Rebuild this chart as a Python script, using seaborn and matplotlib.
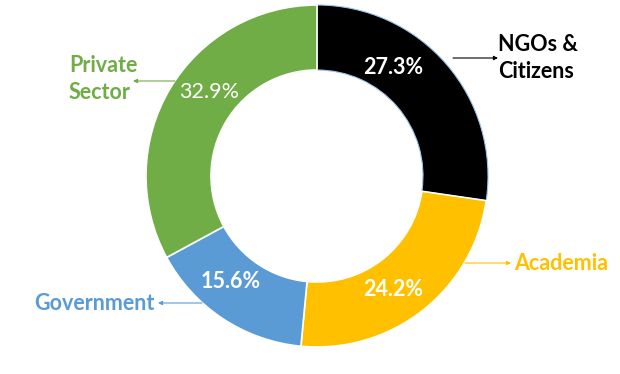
import matplotlib
matplotlib.use("Agg")
import matplotlib.pyplot as plt
import seaborn as sns

# Data
categories = ["NGOs &\nCitizens", "Academia", "Government", "Private\nSector"]
shares = [27.3, 24.2, 15.6, 32.9]
pct_labels = ["27.3%", "24.2%", "15.6%", "32.9%"]
colors = ["#000000", "#FFC000", "#5B9BD5", "#70AD47"]

sns.set_theme(style="white")
plt.rcParams['font.family'] = ['Lato', 'DejaVu Sans']

W, H = 620, 374
fig = plt.figure(figsize=(W / 100, H / 100), dpi=100)
ax = fig.add_axes([0, 0, 1, 1])

cx, cy, R, ring = 317, H - 176, 171, 65
wedges, _ = ax.pie(shares, colors=colors, startangle=90, counterclock=False,
                   center=(cx, cy), radius=R,
                   wedgeprops=dict(width=ring, edgecolor="white", linewidth=1.2))
wedges[0].set_edgecolor("#9DC3E6")
wedges[0].set_linewidth(0.8)
ax.set_xlim(0, W)
ax.set_ylim(0, H)
ax.set_aspect("equal")
ax.axis("off")

# percentage labels (pixel positions from top)
pct_pos = [(393, 67), (393, 289), (231, 281), (209, 92)]
pct_bold = [True, True, True, False]
for lab, (x, y), b in zip(pct_labels, pct_pos, pct_bold):
    ax.text(x, H - y, lab, color="white", fontsize=15.5,
            fontweight="bold" if b else "normal", ha="center", va="center")

# category labels and arrows
cat_pos = [(498, 58, "left"), (514, 263, "left"), (155, 303, "right"), (69, 79, "left")]
arrows = [((453, 58), (498, 58)), ((465, 263), (511, 263)),
          ((202, 303), (158, 303)), ((175, 81), (133, 81))]
for lab, (x, y, ha), col, (p0, p1) in zip(categories, cat_pos, colors, arrows):
    ax.text(x, H - y, lab, color=col, fontsize=15.5, fontweight="bold",
            ha=ha, va="center", linespacing=1.4)
    ax.annotate("", xy=(p1[0], H - p1[1]), xytext=(p0[0], H - p0[1]),
                arrowprops=dict(arrowstyle="-|>", color=col, lw=0.8,
                                mutation_scale=6, shrinkA=0, shrinkB=0))

fig.savefig("out.png", dpi=100, facecolor="white")
